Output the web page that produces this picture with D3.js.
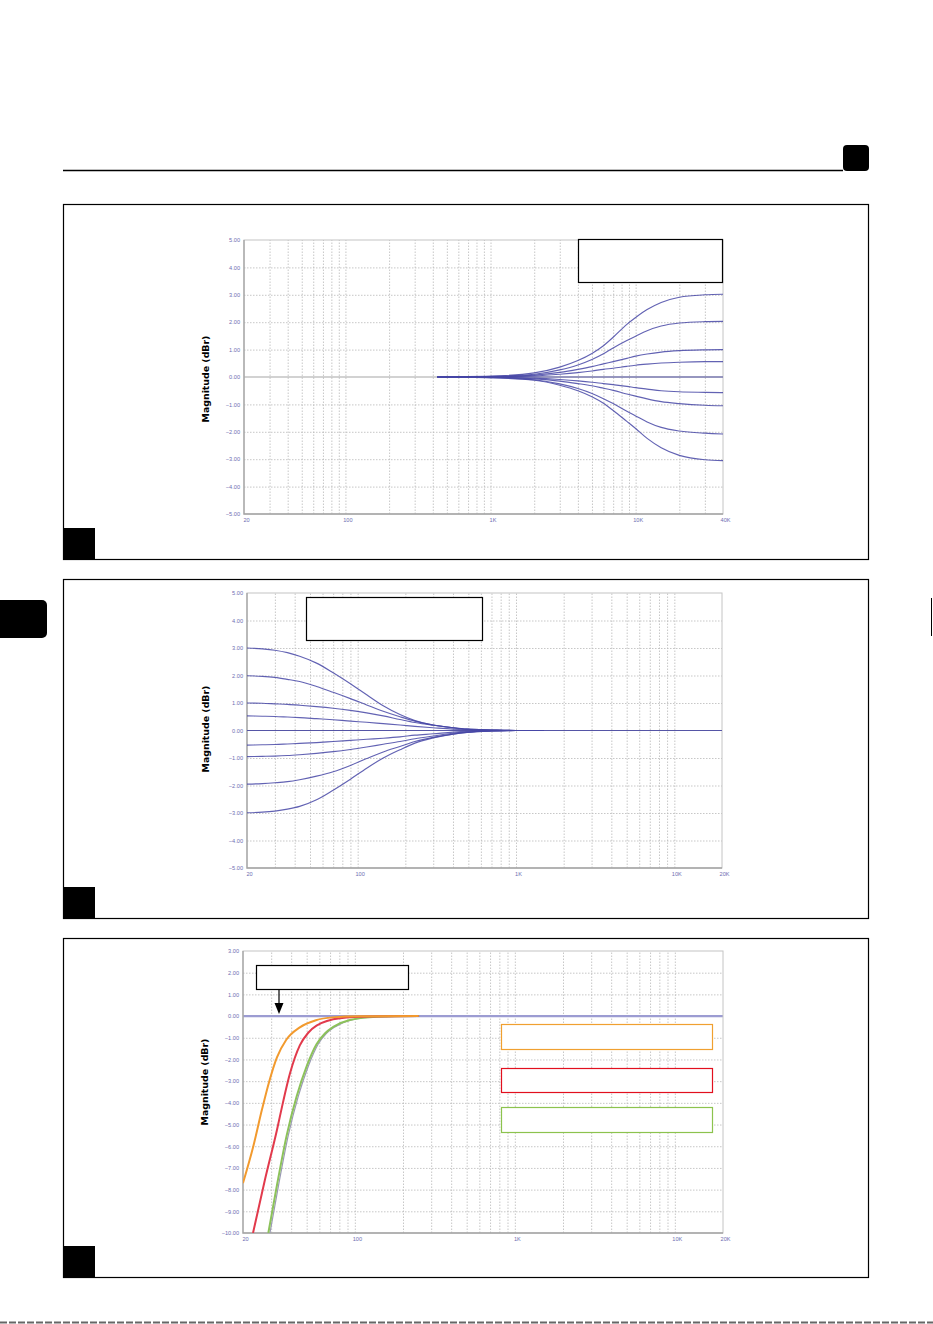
<!DOCTYPE html>
<html>
<head>
<meta charset="utf-8">
<script src="https://cdn.jsdelivr.net/npm/d3@7"></script>
<style>
body { margin: 0; background: #fff; }
svg { display: block; }
</style>
</head>
<body>
<svg id="page" width="933" height="1324"></svg>
<script>
// ---- data ----

// panel 1: high shelf, dB at each frequency
const hsFreqs = [430, 1000, 2000, 3000, 4000, 5000, 6000, 7000, 8700, 10000, 12000, 15000, 20000, 30000, 40000];
const hsBoost3 = [0, 0.03, 0.15, 0.36, 0.6, 0.86, 1.14, 1.45, 1.92, 2.17, 2.46, 2.72, 2.91, 3.0, 3.02];
const hsBoost2 = [0, 0.02, 0.1, 0.26, 0.44, 0.64, 0.85, 1.06, 1.33, 1.49, 1.69, 1.86, 1.97, 2.02, 2.03];
const hsBoost1 = [0, 0.01, 0.07, 0.17, 0.28, 0.38, 0.48, 0.56, 0.68, 0.76, 0.84, 0.91, 0.96, 0.99, 1.0];
const hsBoostHalf = [0, 0.01, 0.04, 0.1, 0.16, 0.22, 0.28, 0.32, 0.39, 0.43, 0.47, 0.51, 0.54, 0.56, 0.56];
const hsFlat = [0, 0, 0, 0, 0, 0, 0, 0, 0, 0, 0, 0, 0, 0, 0];
const hsCutHalf = [0, -0.01, -0.04, -0.09, -0.14, -0.19, -0.24, -0.28, -0.34, -0.39, -0.44, -0.5, -0.54, -0.56, -0.57];
const hsCut1 = [0, -0.01, -0.07, -0.15, -0.24, -0.32, -0.41, -0.49, -0.62, -0.7, -0.8, -0.9, -0.97, -1.03, -1.05];
const hsCut2 = [0, -0.02, -0.1, -0.25, -0.42, -0.6, -0.79, -0.97, -1.25, -1.42, -1.64, -1.84, -1.97, -2.05, -2.08];
const hsCut3 = [0, -0.03, -0.12, -0.3, -0.5, -0.72, -0.96, -1.22, -1.62, -1.88, -2.24, -2.58, -2.86, -3.02, -3.05];

// panel 2: low shelf
const lsFreqs = [20, 25, 30, 36, 43, 55, 70, 90, 114, 145, 185, 230, 300, 400, 490, 700, 1000, 1500];
const lsBoost3 = [3.0, 2.97, 2.92, 2.83, 2.7, 2.45, 2.1, 1.7, 1.3, 0.9, 0.58, 0.36, 0.2, 0.1, 0.05, 0.02, 0, 0];
const lsBoost2 = [1.99, 1.97, 1.93, 1.86, 1.78, 1.6, 1.39, 1.16, 0.93, 0.7, 0.5, 0.34, 0.2, 0.1, 0.05, 0.02, 0, 0];
const lsBoost1 = [1.0, 0.99, 0.97, 0.95, 0.92, 0.87, 0.81, 0.73, 0.64, 0.53, 0.4, 0.29, 0.19, 0.1, 0.05, 0.02, 0, 0];
const lsBoostHalf = [0.53, 0.52, 0.51, 0.49, 0.47, 0.43, 0.39, 0.34, 0.3, 0.25, 0.2, 0.15, 0.1, 0.05, 0.03, 0.01, 0, 0];
const lsCutHalf = [-0.53, -0.52, -0.51, -0.49, -0.47, -0.44, -0.4, -0.36, -0.32, -0.28, -0.23, -0.17, -0.12, -0.06, -0.03, -0.01, 0, 0];
const lsCut1 = [-0.95, -0.94, -0.93, -0.91, -0.88, -0.83, -0.77, -0.69, -0.6, -0.5, -0.4, -0.3, -0.2, -0.1, -0.06, -0.02, 0, 0];
const lsCut2 = [-1.95, -1.93, -1.9, -1.86, -1.79, -1.66, -1.5, -1.27, -1.02, -0.78, -0.58, -0.4, -0.25, -0.13, -0.07, -0.02, 0, 0];
const lsCut3 = [-2.99, -2.97, -2.93, -2.86, -2.76, -2.52, -2.17, -1.77, -1.37, -1.0, -0.7, -0.46, -0.27, -0.13, -0.07, -0.02, 0, 0];
const lsFlatFreqs = [20, 20000];
const lsFlat = [0, 0];

// panel 3: high pass filters
const hpOrangeFreqs = [20, 23.2, 26.3, 29.2, 32.6, 37.2, 45.3, 57.1, 72.6, 107, 250];
const hpOrange = [-7.7, -6.0, -4.3, -3.0, -1.9, -1.1, -0.52, -0.19, -0.06, -0.01, 0];
const hpRedFreqs = [23.1, 27.4, 32.6, 35.5, 39.3, 45.3, 51, 57.6, 80.8, 124, 250];
const hpRed = [-10, -7.56, -5.25, -4.0, -2.65, -1.35, -0.78, -0.44, -0.1, -0.02, 0];
const hpGreenFreqs = [28.8, 32.6, 37.5, 43.3, 50.1, 57.6, 65, 73.3, 93, 137, 250];
const hpGreen = [-10, -7.8, -5.5, -3.7, -2.3, -1.3, -0.8, -0.5, -0.18, -0.03, 0];

const ticks40k = [[20, '20'], [100, '100'], [1000, '1K'], [10000, '10K'], [40000, '40K']];
const ticks20k = [[20, '20'], [100, '100'], [1000, '1K'], [10000, '10K'], [20000, '20K']];

// ---- page ----
const svg = d3.select('#page');
const labelFont = 'Liberation Sans, Arial, sans-serif';
const curveBlue = '#4646a6';

// header rule and tabs
svg.append('line').attr('x1', 63).attr('x2', 843).attr('y1', 170.5).attr('y2', 170.5)
    .attr('stroke', '#000').attr('stroke-width', 1.4);
svg.append('rect').attr('x', 843).attr('y', 145).attr('width', 26).attr('height', 26).attr('rx', 4).attr('fill', '#000');
svg.append('rect').attr('x', -6).attr('y', 600).attr('width', 53).attr('height', 38).attr('rx', 5).attr('fill', '#000');
svg.append('line').attr('x1', 931.5).attr('x2', 931.5).attr('y1', 598).attr('y2', 636)
    .attr('stroke', '#000').attr('stroke-width', 1);
svg.append('line').attr('x1', 0).attr('x2', 933).attr('y1', 1322.5).attr('y2', 1322.5)
    .attr('stroke', '#666').attr('stroke-width', 2).attr('stroke-dasharray', '7,2');

let frame = function(top, bottom) {
    svg.append('rect').attr('x', 63.5).attr('y', top + 0.5).attr('width', 805).attr('height', bottom - top)
        .attr('fill', 'none').attr('stroke', '#000').attr('stroke-width', 1.2);
    svg.append('rect').attr('x', 64).attr('y', bottom - 31).attr('width', 31).attr('height', 31).attr('fill', '#000');
}
frame(204, 559);
frame(579, 918);
frame(938, 1277);

let clipCount = 0;

let drawPlot = function(cfg) {
    let x = d3.scaleLog().domain(cfg.xDomain).range([cfg.left, cfg.right]);
    let y = d3.scaleLinear().domain(cfg.yDomain).range([cfg.bottom, cfg.top]);
    let g = svg.append('g');
    let h = cfg.bottom - cfg.top;
    let w = cfg.right - cfg.left;

    let vTicks = [];
    [10, 100, 1000, 10000].forEach(function(decade) {
        for (let m = 1; m < 10; m++) {
            let f = decade * m;
            if (f > cfg.xDomain[0] && f < cfg.xDomain[1]) vTicks.push(f);
        }
    });
    let hTicks = d3.range(cfg.yDomain[0] + 1, cfg.yDomain[1]).filter(function(v) { return v != 0; });

    let dotted = function(s) {
        s.select('.domain').remove();
        s.selectAll('line').attr('stroke', '#b9b9b9').attr('stroke-width', 0.8).attr('stroke-dasharray', '1.5,1.5');
    }
    g.append('g').attr('transform', 'translate(0,' + cfg.bottom + ')')
        .call(d3.axisBottom(x).tickValues(vTicks).tickSize(-h).tickFormat(''))
        .call(dotted);
    g.append('g').attr('transform', 'translate(' + cfg.left + ',0)')
        .call(d3.axisLeft(y).tickValues(hTicks).tickSize(-w).tickFormat(''))
        .call(dotted);

    // zero reference
    g.append('line').attr('x1', cfg.left).attr('x2', cfg.right).attr('y1', y(0)).attr('y2', y(0))
        .attr('stroke', cfg.zeroColor).attr('stroke-width', cfg.zeroWidth);

    // plot frame
    g.append('rect').attr('x', cfg.left).attr('y', cfg.top).attr('width', w).attr('height', h)
        .attr('fill', 'none').attr('stroke', '#c4c4c4').attr('stroke-width', 1);
    g.append('path').attr('d', 'M' + cfg.left + ',' + cfg.top + 'V' + cfg.bottom + 'H' + cfg.right)
        .attr('fill', 'none').attr('stroke', '#a4a4a4').attr('stroke-width', 1.3);

    // tick labels
    let labelStyle = function(s) {
        s.select('.domain').remove();
        s.selectAll('text').attr('font-size', '5.6px').attr('font-family', labelFont).attr('fill', '#6e6eb2');
    }
    g.append('g').attr('transform', 'translate(' + (cfg.left - 1) + ',0)')
        .call(d3.axisLeft(y).tickValues(d3.range(cfg.yDomain[0], cfg.yDomain[1] + 1)).tickSize(0).tickFormat(d3.format('.2f')))
        .call(labelStyle);
    g.append('g').attr('transform', 'translate(2,' + (cfg.bottom + 1) + ')')
        .call(d3.axisBottom(x).tickValues(cfg.xLabels.map(function(t) { return t[0]; })).tickSize(0)
            .tickFormat(function(v) { return cfg.xLabels.find(function(t) { return t[0] == v; })[1]; }))
        .call(labelStyle);

    // axis title
    svg.append('text')
        .attr('transform', 'translate(' + cfg.titleX + ',' + cfg.titleY + ') rotate(-90)')
        .attr('text-anchor', 'middle')
        .attr('font-family', 'DejaVu Sans, sans-serif').attr('font-weight', 'bold').attr('font-size', '9.4px')
        .attr('fill', '#000')
        .text('Magnitude (dBr)');

    // curves
    let clipId = 'clip' + (clipCount++);
    svg.append('clipPath').attr('id', clipId).append('rect')
        .attr('x', cfg.left).attr('y', cfg.top).attr('width', w).attr('height', h);
    let curves = g.append('g').attr('clip-path', 'url(#' + clipId + ')');
    let line = d3.line().x(function(d) { return x(d[0]); }).y(function(d) { return y(d[1]); }).curve(d3.curveMonotoneX);

    cfg.series.forEach(function(s) {
        let points = s.freqs.map(function(f, i) { return [f, s.values[i]]; });
        curves.append('path').datum(points)
            .attr('d', line)
            .attr('fill', 'none')
            .attr('stroke', s.color)
            .attr('stroke-width', s.width)
            .attr('stroke-opacity', s.opacity || 1)
            .attr('transform', s.shift ? 'translate(' + s.shift + ',0)' : null);
    });
}

let blueSeries = function(freqs, list) {
    return list.map(function(values) {
        return {freqs: freqs, values: values, color: curveBlue, width: 1.15, opacity: 0.85};
    });
}

drawPlot({
    left: 244, right: 723, top: 240, bottom: 514,
    xDomain: [20, 40000], yDomain: [-5, 5], xLabels: ticks40k, titleX: 209, titleY: 379,
    zeroColor: '#a6a6a6', zeroWidth: 1.2,
    series: blueSeries(hsFreqs, [hsBoost3, hsBoost2, hsBoost1, hsBoostHalf, hsFlat, hsCutHalf, hsCut1, hsCut2, hsCut3])
});

drawPlot({
    left: 247, right: 722, top: 593, bottom: 868,
    xDomain: [20, 20000], yDomain: [-5, 5], xLabels: ticks20k, titleX: 209, titleY: 729,
    zeroColor: '#a6a6a6', zeroWidth: 1.2,
    series: blueSeries(lsFreqs, [lsBoost3, lsBoost2, lsBoost1, lsBoostHalf, lsCutHalf, lsCut1, lsCut2, lsCut3])
        .concat(blueSeries(lsFlatFreqs, [lsFlat]))
});

drawPlot({
    left: 243, right: 723, top: 951, bottom: 1233,
    xDomain: [20, 20000], yDomain: [-10, 3], xLabels: ticks20k, titleX: 208, titleY: 1082,
    zeroColor: '#9c9cd2', zeroWidth: 2.2,
    series: [
        {freqs: hpGreenFreqs, values: hpGreen, color: '#9a9ab4', width: 1.2, shift: 1.6},
        {freqs: hpGreenFreqs, values: hpGreen, color: '#8cc25a', width: 2},
        {freqs: hpRedFreqs, values: hpRed, color: '#e23a4c', width: 2},
        {freqs: hpOrangeFreqs, values: hpOrange, color: '#f29a2e', width: 2}
    ]
});

// empty caption boxes
let box = function(x0, y0, x1, y1, color) {
    svg.append('rect').attr('x', x0 + 0.5).attr('y', y0 + 0.5).attr('width', x1 - x0).attr('height', y1 - y0)
        .attr('fill', '#fff').attr('stroke', color).attr('stroke-width', 1.2);
}
box(578, 239, 722, 282, '#000');
box(306, 597, 482, 640, '#000');
box(256, 965, 408, 989, '#000');
box(501, 1024, 712, 1049, '#f0a030');
box(501, 1068, 712, 1092, '#e2101e');
box(501, 1107, 712, 1132, '#8cc34e');

// arrow from the box down to the 0 dB line
svg.append('line').attr('x1', 279).attr('x2', 279).attr('y1', 989).attr('y2', 1004)
    .attr('stroke', '#000').attr('stroke-width', 1.2);
svg.append('path').attr('d', 'M274.5,1003 L283.5,1003 L279,1014 Z').attr('fill', '#000');
</script>
</body>
</html>
